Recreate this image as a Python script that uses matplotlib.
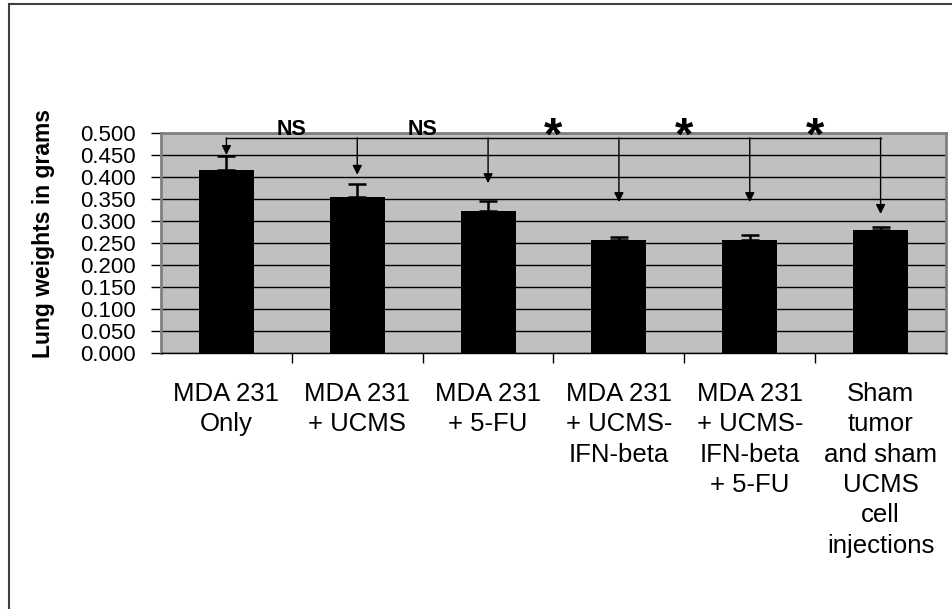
import matplotlib.pyplot as plt
from matplotlib.patches import Rectangle

# Daten
groups = ["MDA 231\nOnly", "MDA 231\n+ UCMS", "MDA 231\n+ 5-FU",
          "MDA 231\n+ UCMS-\nIFN-beta", "MDA 231\n+ UCMS-\nIFN-beta\n+ 5-FU",
          "Sham\ntumor\nand sham\nUCMS\ncell\ninjections"]
weights = [0.416, 0.355, 0.323, 0.257, 0.257, 0.280]
errors = [0.032, 0.029, 0.023, 0.007, 0.012, 0.007]
arrow_tips = [0.450, 0.405, 0.386, 0.343, 0.343, 0.316]
sig_labels = ["NS", "NS", "*", "*", "*"]
bracket_y = 0.489
yticks = [0.0, 0.05, 0.1, 0.15, 0.2, 0.25, 0.3, 0.35, 0.4, 0.45, 0.5]

plt.rcParams['font.family'] = ['Liberation Sans', 'DejaVu Sans']

fig = plt.figure(figsize=(9.53, 6.09), dpi=100)
ax = fig.add_axes([161 / 953, 256 / 609, 785 / 953, 220 / 609])
ax.set_facecolor("#c0c0c0")

x = list(range(len(groups)))
ax.bar(x, weights, width=0.42, color="black", zorder=3)
ax.errorbar(x, weights, yerr=[[0] * len(errors), errors], fmt="none",
            ecolor="black", elinewidth=1.8, capsize=6.5, capthick=1.8, zorder=4)

# Gitterlinien
ax.set_ylim(0, 0.5)
ax.set_xlim(-0.5, len(groups) - 0.5)
ax.set_yticks(yticks)
ax.set_yticklabels([f"{v:.3f}" for v in yticks], fontsize=16)
ax.yaxis.grid(True, color="black", linewidth=1.0, zorder=1)
ax.set_axisbelow(True)

# Kategorie-Trennstriche auf der x-Achse
ax.set_xticks([i + 0.5 for i in x[:-1]], minor=False)
ax.set_xticklabels([])
ax.set_xticks(x, minor=True)
ax.set_xticklabels(groups, minor=True, fontsize=18.5, linespacing=1.33, va="top")
ax.tick_params(axis="x", which="minor", length=0, pad=21)
ax.tick_params(axis="x", which="major", length=7, width=1, color="black")
ax.tick_params(axis="y", length=7, width=1, color="black", pad=11)

for s in ["left", "top", "right", "bottom"]:
    ax.spines[s].set_color("#808080")
    ax.spines[s].set_linewidth(2)
ax.spines["bottom"].set_color("black")
ax.spines["bottom"].set_linewidth(1)

ax.set_ylabel("Lung weights in grams", fontsize=16.5, fontweight="bold")
ax.yaxis.set_label_coords(-0.135, 0.541)

# Signifikanz-Klammer mit Pfeilen
ax.plot([x[0], x[-1]], [bracket_y, bracket_y], color="black", linewidth=1.0, zorder=5)
for i in x:
    ax.annotate("", xy=(i, arrow_tips[i]), xytext=(i, bracket_y),
                arrowprops=dict(arrowstyle="-|>", color="black", lw=1.0,
                                mutation_scale=14, shrinkA=0, shrinkB=0),
                zorder=6)

for i, lab in enumerate(sig_labels):
    if lab == "NS":
        ax.text(i + 0.5, 0.484, lab, ha="center", va="bottom", fontsize=15.5,
                fontweight="bold", clip_on=False)
    else:
        ax.text(i + 0.5, 0.489, lab, ha="center", va="center", fontsize=34,
                fontweight="bold", clip_on=False, zorder=7)

# Rahmen um die Abbildung
fig.add_artist(Rectangle((9 / 953, -0.1), 1.2, (609 - 4) / 609 + 0.1,
                         transform=fig.transFigure, fill=False,
                         edgecolor="#404040", linewidth=1.5))

fig.savefig("out.png", dpi=100)
